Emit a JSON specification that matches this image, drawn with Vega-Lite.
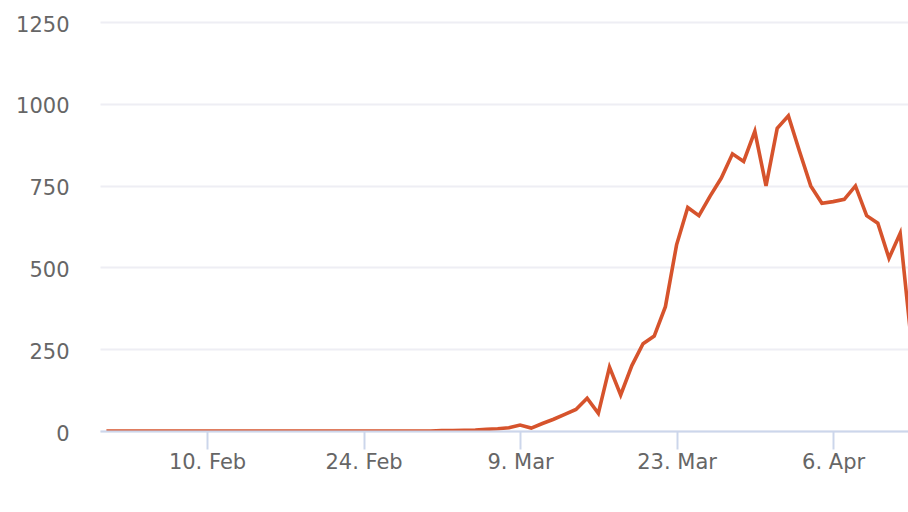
{
  "$schema": "https://vega.github.io/schema/vega-lite/v6.json",
  "width": 808,
  "height": 409,
  "autosize": {"type": "none"},
  "padding": {"left": 100, "top": 22, "right": 0, "bottom": 81},
  "background": "#ffffff",
  "config": {
    "view": {"stroke": null},
    "font": "DejaVu Sans"
  },
  "data": {
    "values": [
      {"date": "2020-02-01", "deaths": 0},
      {"date": "2020-02-02", "deaths": 0},
      {"date": "2020-02-03", "deaths": 0},
      {"date": "2020-02-04", "deaths": 0},
      {"date": "2020-02-05", "deaths": 0},
      {"date": "2020-02-06", "deaths": 0},
      {"date": "2020-02-07", "deaths": 0},
      {"date": "2020-02-08", "deaths": 0},
      {"date": "2020-02-09", "deaths": 0},
      {"date": "2020-02-10", "deaths": 0},
      {"date": "2020-02-11", "deaths": 0},
      {"date": "2020-02-12", "deaths": 0},
      {"date": "2020-02-13", "deaths": 0},
      {"date": "2020-02-14", "deaths": 0},
      {"date": "2020-02-15", "deaths": 0},
      {"date": "2020-02-16", "deaths": 0},
      {"date": "2020-02-17", "deaths": 0},
      {"date": "2020-02-18", "deaths": 0},
      {"date": "2020-02-19", "deaths": 0},
      {"date": "2020-02-20", "deaths": 0},
      {"date": "2020-02-21", "deaths": 0},
      {"date": "2020-02-22", "deaths": 0},
      {"date": "2020-02-23", "deaths": 0},
      {"date": "2020-02-24", "deaths": 0},
      {"date": "2020-02-25", "deaths": 0},
      {"date": "2020-02-26", "deaths": 0},
      {"date": "2020-02-27", "deaths": 0},
      {"date": "2020-02-28", "deaths": 0},
      {"date": "2020-02-29", "deaths": 0},
      {"date": "2020-03-01", "deaths": 0},
      {"date": "2020-03-02", "deaths": 1},
      {"date": "2020-03-03", "deaths": 1},
      {"date": "2020-03-04", "deaths": 2},
      {"date": "2020-03-05", "deaths": 3},
      {"date": "2020-03-06", "deaths": 5},
      {"date": "2020-03-07", "deaths": 7},
      {"date": "2020-03-08", "deaths": 10},
      {"date": "2020-03-09", "deaths": 18},
      {"date": "2020-03-10", "deaths": 9},
      {"date": "2020-03-11", "deaths": 23},
      {"date": "2020-03-12", "deaths": 36},
      {"date": "2020-03-13", "deaths": 51},
      {"date": "2020-03-14", "deaths": 66},
      {"date": "2020-03-15", "deaths": 100},
      {"date": "2020-03-16", "deaths": 54},
      {"date": "2020-03-17", "deaths": 195},
      {"date": "2020-03-18", "deaths": 110},
      {"date": "2020-03-19", "deaths": 200},
      {"date": "2020-03-20", "deaths": 267},
      {"date": "2020-03-21", "deaths": 290},
      {"date": "2020-03-22", "deaths": 380},
      {"date": "2020-03-23", "deaths": 569},
      {"date": "2020-03-24", "deaths": 683},
      {"date": "2020-03-25", "deaths": 658},
      {"date": "2020-03-26", "deaths": 718},
      {"date": "2020-03-27", "deaths": 773},
      {"date": "2020-03-28", "deaths": 847},
      {"date": "2020-03-29", "deaths": 824},
      {"date": "2020-03-30", "deaths": 916},
      {"date": "2020-03-31", "deaths": 749},
      {"date": "2020-04-01", "deaths": 925},
      {"date": "2020-04-02", "deaths": 963},
      {"date": "2020-04-03", "deaths": 854},
      {"date": "2020-04-04", "deaths": 749},
      {"date": "2020-04-05", "deaths": 696},
      {"date": "2020-04-06", "deaths": 701},
      {"date": "2020-04-07", "deaths": 708},
      {"date": "2020-04-08", "deaths": 749},
      {"date": "2020-04-09", "deaths": 658},
      {"date": "2020-04-10", "deaths": 635},
      {"date": "2020-04-11", "deaths": 528},
      {"date": "2020-04-12", "deaths": 604},
      {"date": "2020-04-13", "deaths": 272}
    ]
  },
  "mark": {"type": "line", "color": "#d6532c", "strokeWidth": 3.6, "clip": true, "strokeJoin": "miter"},
  "encoding": {
    "x": {
      "field": "date",
      "type": "temporal",
      "scale": {
        "type": "utc",
        "domain": [
          {"year": 2020, "month": 1, "date": 31, "hours": 10, "minutes": 15, "utc": true},
          {"year": 2020, "month": 4, "date": 12, "hours": 16, "minutes": 48, "utc": true}
        ]
      },
      "axis": {
        "title": null,
        "values": [
          {"year": 2020, "month": 2, "date": 10, "utc": true},
          {"year": 2020, "month": 2, "date": 24, "utc": true},
          {"year": 2020, "month": 3, "date": 9, "utc": true},
          {"year": 2020, "month": 3, "date": 23, "utc": true},
          {"year": 2020, "month": 4, "date": 6, "utc": true}
        ],
        "format": "%-d. %b",
        "grid": false,
        "domainColor": "#ccd6eb",
        "domainWidth": 2,
        "tickColor": "#ccd6eb",
        "tickWidth": 2,
        "tickSize": 18,
        "labelPadding": 2,
        "labelFontSize": 21,
        "labelColor": "#666666",
        "labelFont": "DejaVu Sans",
        "zindex": 1
      }
    },
    "y": {
      "field": "deaths",
      "type": "quantitative",
      "scale": {"domain": [0, 1250], "nice": false},
      "axis": {
        "title": null,
        "values": [0, 250, 500, 750, 1000, 1250],
        "format": "d",
        "domain": false,
        "ticks": false,
        "gridColor": "#eeeef4",
        "gridWidth": 2,
        "labelPadding": 31,
        "labelOffset": 3,
        "labelFontSize": 21,
        "labelColor": "#666666",
        "labelFont": "DejaVu Sans"
      }
    }
  }
}
